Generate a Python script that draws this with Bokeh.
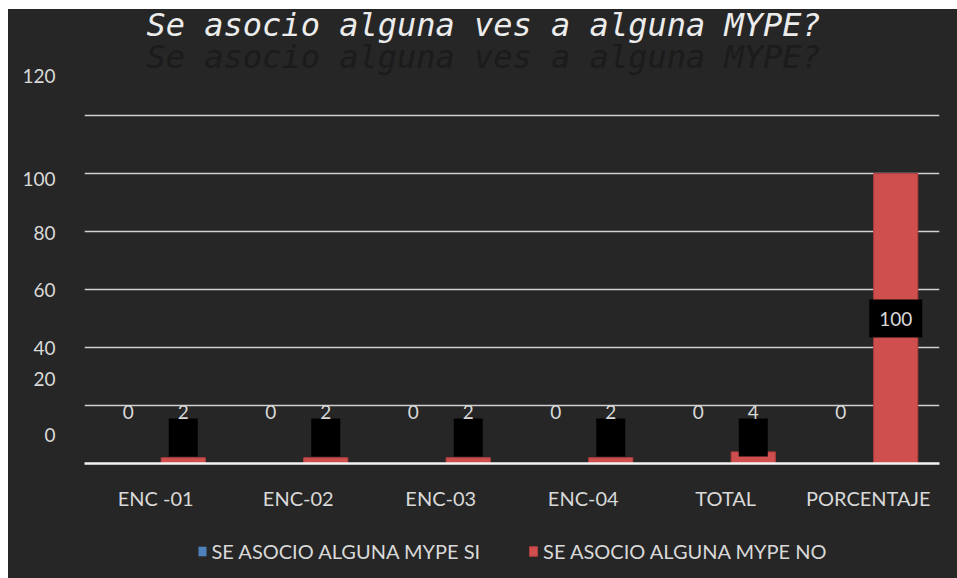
from bokeh.plotting import figure
from bokeh.layouts import column, row
from bokeh.models import (ColumnDataSource, FixedTicker, Title, Legend, LegendItem,
                          Range1d, FactorRange, Spacer)
from bokeh.transform import dodge
from bokeh.core.properties import value
from bokeh.embed import file_html
from bokeh.resources import INLINE

# ---- data ----
categories = ["ENC -01", "ENC-02", "ENC-03", "ENC-04", "TOTAL", "PORCENTAJE"]
si_values = [0, 0, 0, 0, 0, 0]
no_values = [2, 2, 2, 2, 4, 100]
series_names = ["SE ASOCIO ALGUNA MYPE SI", "SE ASOCIO ALGUNA MYPE NO"]
title_text = "Se asocio alguna ves a alguna MYPE?"
y_tick_labels = ["0", "20", "40", "60", "80", "100", "120"]
y_grid_values = [0, 20, 40, 60, 80, 100, 120]

# ---- layout constants (the source chart shows its axis labels displaced) ----
y_label_positions = [9.7, 29.3, 40, 60, 79.6, 98.2, 133.6]
LOW_LABEL_Y = 17.9
LOW_BOX_Y = 9.0
BAR_OFFSET = 0.193
BAR_WIDTH = 0.31

BG = "#262626"
TXT = "#d9d9d9"
FONT = "Lato"
SI_COLOR = "#4f81bd"
NO_COLOR = "#cf4e4e"
NO_LINE = "#b03e3e"

no_label_y = [v / 2 if v / 2 > LOW_LABEL_Y else LOW_LABEL_Y for v in no_values]
no_box_y = [v / 2 if v / 2 > LOW_LABEL_Y else LOW_BOX_Y for v in no_values]
no_box_w = [12 * len(str(v)) + 17 for v in no_values]
si_label_y = [LOW_LABEL_Y for _ in si_values]

src = ColumnDataSource(dict(
    cat=categories, si=si_values, no=no_values,
    si_txt=[str(v) for v in si_values], no_txt=[str(v) for v in no_values],
    si_ly=si_label_y, no_ly=no_label_y, no_by=no_box_y, no_bw=no_box_w,
))

p = figure(x_range=FactorRange(*categories), y_range=Range1d(0, 134.5),
           width=949, height=515, frame_width=855, frame_height=390,
           min_border_left=76, min_border_right=18, min_border_top=64, min_border_bottom=61,
           output_backend="svg", toolbar_location=None, title=None)
p.background_fill_color = BG
p.border_fill_color = BG
p.outline_line_color = None
p.styles = {"background-color": BG}

# titles: ghost copy nearest the frame, main one above it
ghost = Title(text=title_text, text_font="DejaVu Sans Mono", text_font_style="italic",
              text_font_size="32px", text_color="#1b1b1b", align="left",
              offset=62, standoff=-4)
main = Title(text=title_text, text_font="DejaVu Sans Mono", text_font_style="italic",
             text_font_size="32px", text_color="#ececec", align="left",
             offset=62, standoff=-12.9)
p.add_layout(ghost, "above")
p.add_layout(main, "above")

# grid
p.xgrid.grid_line_color = None
p.ygrid.ticker = FixedTicker(ticks=y_grid_values)
p.ygrid.grid_line_color = "#d0d0d0"
p.ygrid.grid_line_width = 1.5

# axes
p.yaxis.ticker = FixedTicker(ticks=y_label_positions)
p.yaxis.major_label_overrides = {pos: lab for pos, lab in zip(y_label_positions, y_tick_labels)}
p.yaxis.axis_line_color = None
p.yaxis.major_tick_line_color = None
p.yaxis.minor_tick_line_color = None
p.yaxis.major_label_text_font = FONT
p.yaxis.major_label_text_font_size = "19px"
p.yaxis.major_label_text_color = TXT
p.yaxis.major_label_standoff = 23

p.xaxis.axis_line_color = "#f4f4f4"
p.xaxis.axis_line_width = 2.5
p.xaxis.major_tick_line_color = None
p.xaxis.minor_tick_line_color = None
p.xaxis.major_label_text_font = FONT
p.xaxis.major_label_text_font_size = "20px"
p.xaxis.major_label_text_color = TXT
p.xaxis.major_label_standoff = 16

# bars
p.vbar(x=dodge("cat", -BAR_OFFSET, range=p.x_range), top="si", width=BAR_WIDTH,
       source=src, fill_color=SI_COLOR, line_color=None)
p.vbar(x=dodge("cat", BAR_OFFSET, range=p.x_range), top="no", width=BAR_WIDTH,
       source=src, fill_color=NO_COLOR, line_color=NO_LINE, line_width=1)

# data labels
p.text(x=dodge("cat", -BAR_OFFSET, range=p.x_range), y="si_ly", text="si_txt", source=src,
       text_font=value(FONT), text_font_size="19px", text_color=TXT,
       text_align="center", text_baseline="middle")
p.rect(x=dodge("cat", BAR_OFFSET, range=p.x_range), y="no_by", width="no_bw", height=38,
       width_units="screen", height_units="screen", source=src,
       fill_color="black", line_color=None)
p.text(x=dodge("cat", BAR_OFFSET, range=p.x_range), y="no_ly", text="no_txt", source=src,
       text_font=value(FONT), text_font_size="19px", text_color=TXT,
       text_align="center", text_baseline="middle")

# legend strip (its own small figure, below the chart); its bars lie outside its view
lg = figure(width=949, height=54, min_border_left=35, min_border_right=0,
            min_border_top=0, min_border_bottom=0, x_axis_type=None, y_axis_type=None,
            x_range=Range1d(10, 11), y_range=Range1d(10, 11),
            output_backend="svg", toolbar_location=None, title=None)
lg.background_fill_color = BG
lg.border_fill_color = BG
lg.outline_line_color = None
lg.styles = {"background-color": BG}
lr_si = lg.vbar(x=[0], top=[si_values[0]], width=0.3, fill_color=SI_COLOR, line_color=None)
lr_no = lg.vbar(x=[0], top=[no_values[0]], width=0.3, fill_color=NO_COLOR, line_color=NO_LINE)
legend = Legend(items=[LegendItem(label=series_names[0], renderers=[lr_si]),
                       LegendItem(label=series_names[1], renderers=[lr_no])],
                orientation="horizontal", location="center",
                label_text_font=FONT, label_text_font_size="20px", label_text_color=TXT,
                glyph_width=10, glyph_height=12, label_standoff=5, spacing=48,
                padding=4, margin=0,
                background_fill_alpha=0, border_line_color=None)
lg.add_layout(legend)

layout = column(Spacer(height=9), row(Spacer(width=8), column(p, lg)))
open("out.html", "w").write(file_html(layout, INLINE))
